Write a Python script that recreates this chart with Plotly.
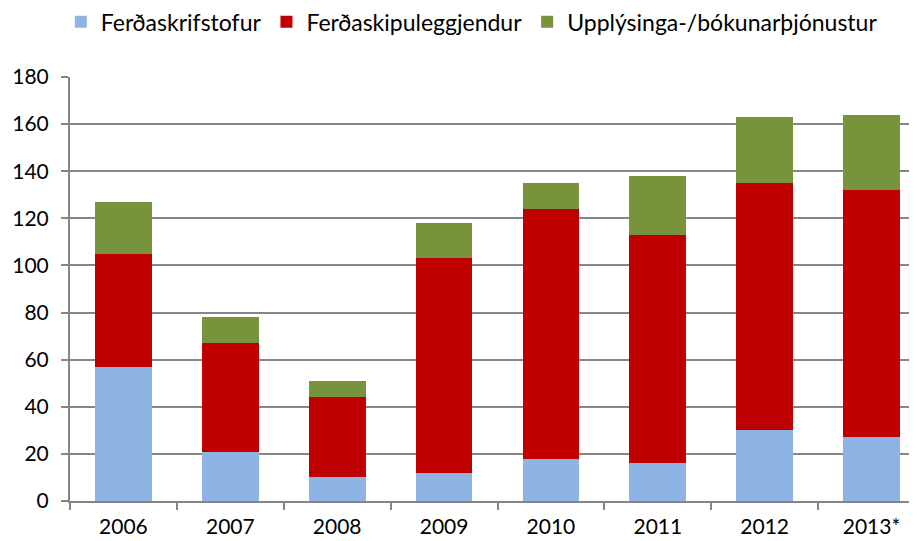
import plotly.graph_objects as go

years = ["2006", "2007", "2008", "2009", "2010", "2011", "2012", "2013*"]
ferdaskrifstofur = [57, 21, 10, 12, 18, 16, 30, 27]
ferdaskipuleggjendur = [48, 46, 34, 91, 106, 97, 105, 105]
upplysinga = [22, 11, 7, 15, 11, 25, 28, 32]
yticks = [0, 20, 40, 60, 80, 100, 120, 140, 160, 180]

fig = go.Figure()
fig.add_bar(x=years, y=ferdaskrifstofur, name="Ferðaskrifstofur", marker_color="#8EB4E3",
            marker_line_width=0)
fig.add_bar(x=years, y=ferdaskipuleggjendur, name="Ferðaskipuleggjendur", marker_color="#C00000",
            marker_line_width=0)
fig.add_bar(x=years, y=upplysinga, name="Upplýsinga-/bókunarþjónustur", marker_color="#77933C",
            marker_line_width=0)

font = "Lato, Carlito, Calibri, sans-serif"
fig.update_layout(
    barmode="stack",
    bargap=0.47,
    width=917, height=541,
    margin=dict(l=62, r=0, t=69, b=48, autoexpand=False),
    paper_bgcolor="white", plot_bgcolor="white",
    font=dict(family=font, size=21, color="#000000"),
    legend=dict(orientation="h", x=0.47, xanchor="center", y=1.13, yanchor="middle",
                font=dict(size=23), itemwidth=30, traceorder="normal"),
    xaxis=dict(type="category", showline=True, linecolor="#868686", linewidth=2,
               ticks="outside", tickson="boundaries", ticklen=7, tickcolor="#868686",
               tickwidth=2, showgrid=False, tickfont=dict(size=21), automargin=False,
               ticklabelstandoff=6),
    yaxis=dict(range=[0, 180], tickvals=yticks, showline=True, linecolor="#868686", linewidth=2,
               ticks="outside", ticklen=7, tickcolor="#868686", tickwidth=2,
               showgrid=True, gridcolor="#868686", gridwidth=1.5, zeroline=False,
               tickfont=dict(size=21), automargin=False, ticklabelstandoff=8),
)
fig.write_html("out.html")
